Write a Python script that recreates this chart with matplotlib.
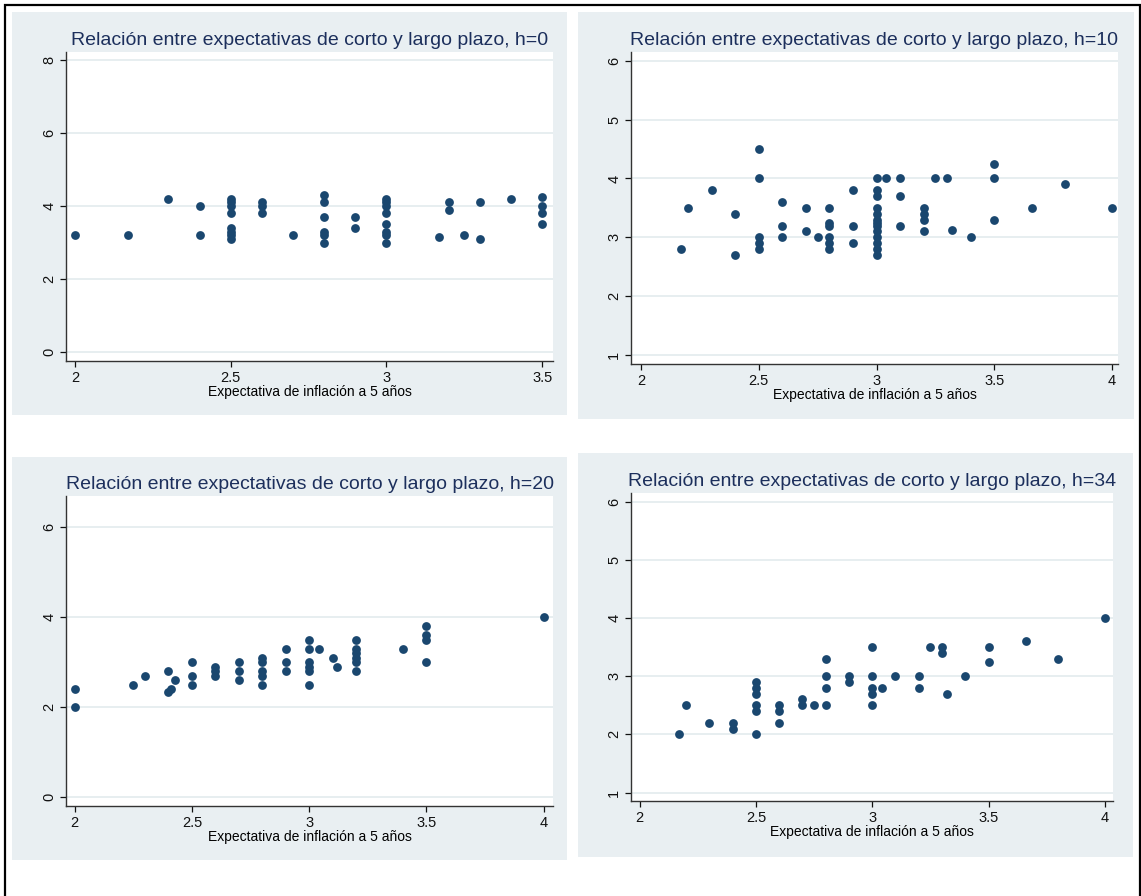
import numpy as np
import matplotlib
matplotlib.use("Agg")
from matplotlib import pyplot as plt
from matplotlib.patches import Rectangle

plt.rcParams['font.family'] = ['Liberation Sans', 'DejaVu Sans']

# expectativa a 5 años (x) vs expectativa de corto plazo (y), por horizonte h
h0_x = [2.0, 2.17, 2.3, 2.4, 2.4,
        2.5, 2.5, 2.5, 2.5, 2.5, 2.5, 2.5, 2.5,
        2.6, 2.6, 2.6, 2.7,
        2.8, 2.8, 2.8, 2.8, 2.8, 2.8,
        2.9, 2.9,
        3.0, 3.0, 3.0, 3.0, 3.0, 3.0, 3.0, 3.0,
        3.17, 3.2, 3.2, 3.25, 3.3, 3.3, 3.4,
        3.5, 3.5, 3.5, 3.5]
h0_y = [3.2, 3.2, 4.2, 4.0, 3.2,
        4.2, 4.1, 4.0, 3.8, 3.4, 3.3, 3.2, 3.1,
        4.1, 4.0, 3.8, 3.2,
        4.3, 4.1, 3.7, 3.3, 3.2, 3.0,
        3.7, 3.4,
        4.2, 4.1, 4.0, 3.8, 3.5, 3.3, 3.2, 3.0,
        3.15, 4.1, 3.9, 3.2, 4.1, 3.1, 4.2,
        4.25, 4.0, 3.8, 3.5]

h10_x = [2.17, 2.2, 2.3, 2.4, 2.4,
         2.5, 2.5, 2.5, 2.5, 2.5,
         2.6, 2.6, 2.6,
         2.7, 2.7, 2.75,
         2.8, 2.8, 2.8, 2.8, 2.8, 2.8,
         2.9, 2.9, 2.9,
         3.0, 3.0, 3.0, 3.0, 3.0, 3.0, 3.0, 3.0, 3.0, 3.0, 3.0, 3.0, 3.0,
         3.04, 3.1, 3.1, 3.1,
         3.2, 3.2, 3.2, 3.2,
         3.25, 3.3, 3.32, 3.4,
         3.5, 3.5, 3.5,
         3.66, 3.8, 4.0]
h10_y = [2.8, 3.5, 3.8, 3.4, 2.7,
         4.5, 4.0, 3.0, 2.9, 2.8,
         3.6, 3.2, 3.0,
         3.5, 3.1, 3.0,
         3.5, 3.25, 3.2, 3.0, 2.9, 2.8,
         3.8, 3.2, 2.9,
         4.0, 3.8, 3.7, 3.5, 3.4, 3.3, 3.25, 3.2, 3.1, 3.0, 2.9, 2.8, 2.7,
         4.0, 4.0, 3.7, 3.2,
         3.5, 3.4, 3.3, 3.1,
         4.0, 4.0, 3.12, 3.0,
         4.25, 4.0, 3.3,
         3.5, 3.9, 3.5]

h20_x = [2.0, 2.0, 2.25, 2.3, 2.4, 2.4, 2.41, 2.43,
         2.5, 2.5, 2.5,
         2.6, 2.6, 2.6,
         2.7, 2.7, 2.7,
         2.8, 2.8, 2.8, 2.8, 2.8,
         2.9, 2.9, 2.9,
         3.0, 3.0, 3.0, 3.0, 3.0, 3.0,
         3.04, 3.1, 3.12,
         3.2, 3.2, 3.2, 3.2, 3.2, 3.2,
         3.4,
         3.5, 3.5, 3.5, 3.5,
         4.0]
h20_y = [2.4, 2.0, 2.5, 2.7, 2.8, 2.33, 2.4, 2.6,
         3.0, 2.7, 2.5,
         2.9, 2.8, 2.7,
         3.0, 2.8, 2.6,
         3.1, 3.0, 2.8, 2.7, 2.5,
         3.3, 3.0, 2.8,
         3.5, 3.3, 3.0, 2.9, 2.8, 2.5,
         3.3, 3.1, 2.9,
         3.5, 3.3, 3.2, 3.1, 3.0, 2.8,
         3.3,
         3.8, 3.6, 3.5, 3.0,
         4.0]

h34_x = [2.17, 2.2, 2.3, 2.4, 2.4,
         2.5, 2.5, 2.5, 2.5, 2.5, 2.5,
         2.6, 2.6, 2.6,
         2.7, 2.7, 2.75,
         2.8, 2.8, 2.8, 2.8,
         2.9, 2.9,
         3.0, 3.0, 3.0, 3.0, 3.0,
         3.04, 3.1, 3.2, 3.2,
         3.25, 3.3, 3.3, 3.32, 3.4,
         3.5, 3.5, 3.66, 3.8, 4.0]
h34_y = [2.0, 2.5, 2.2, 2.2, 2.1,
         2.9, 2.8, 2.7, 2.5, 2.4, 2.0,
         2.5, 2.4, 2.2,
         2.6, 2.5, 2.5,
         3.3, 3.0, 2.8, 2.5,
         3.0, 2.9,
         3.5, 3.0, 2.8, 2.7, 2.5,
         2.8, 3.0, 3.0, 2.8,
         3.5, 3.5, 3.4, 2.7, 3.0,
         3.5, 3.25, 3.6, 3.3, 4.0]

horizons = [0, 10, 20, 34]
xticks_list = [[2, 2.5, 3, 3.5], [2, 2.5, 3, 3.5, 4], [2, 2.5, 3, 3.5, 4], [2, 2.5, 3, 3.5, 4]]
yticks_list = [[0, 2, 4, 6, 8], [1, 2, 3, 4, 5, 6], [0, 2, 4, 6], [1, 2, 3, 4, 5, 6]]

W, H = 1141, 896
fig = plt.figure(figsize=(W / 100, H / 100), dpi=100)
fig.patch.set_facecolor("white")

bg_col = "#E9EFF2"
dot_col = "#1A476F"
title_col = "#1C2F5C"
grid_col = "#E3EBEE"

# pixel boxes: (left, top, right, bottom)
panel_px = [(12, 12, 567, 415), (578, 12, 1134, 419), (12, 457, 567, 860), (578, 453, 1133, 857)]
axes_px = [(66, 52, 553, 361), (631, 52, 1118, 364), (66, 496, 553, 806), (631, 493, 1113, 801)]
xlims = [(1.971, 3.535), (1.958, 4.025), (1.963, 4.04), (1.963, 4.035)]
ylims = [(-0.247, 8.22), (0.847, 6.15), (-0.2, 6.69), (0.855, 6.15)]

def fbox(b):
    l, t, r, bt = b
    return [l / W, 1 - bt / H, (r - l) / W, (bt - t) / H]

for b in panel_px:
    x0, y0, w, h = fbox(b)
    fig.add_artist(Rectangle((x0, y0), w, h, transform=fig.transFigure,
                             facecolor=bg_col, edgecolor="none", zorder=0))

# outer frame (bottom edge is cut off in the original)
fig.add_artist(Rectangle((5 / W, -0.05), (1140 - 5) / W, 1 - 5 / H + 0.05, transform=fig.transFigure,
                         facecolor="none", edgecolor="black", linewidth=1.6, zorder=5))

data = [(h0_x, h0_y), (h10_x, h10_y), (h20_x, h20_y), (h34_x, h34_y)]

for i in range(4):
    ax = fig.add_axes(fbox(axes_px[i]))
    ax.set_facecolor("white")
    xs, ys = data[i]
    ax.scatter(xs, ys, s=40, color=dot_col, linewidths=0, zorder=3)
    ax.set_xlim(*xlims[i])
    ax.set_ylim(*ylims[i])
    ax.set_xticks(xticks_list[i])
    ax.set_xticklabels([("%g" % t) for t in xticks_list[i]])
    ax.set_yticks(yticks_list[i])
    ax.set_yticklabels([str(t) for t in yticks_list[i]], rotation=90, va="center")
    ax.grid(True, axis="y", color=grid_col, linewidth=1.2, zorder=0)
    ax.set_axisbelow(True)
    for s in ["top", "right"]:
        ax.spines[s].set_visible(False)
    for s in ["left", "bottom"]:
        ax.spines[s].set_color("#333333")
        ax.spines[s].set_linewidth(1.0)
    ax.tick_params(axis="x", length=4, width=0.9, pad=3, labelsize=10.5, colors="#111111")
    ax.tick_params(axis="y", length=4, width=0.9, pad=3, labelsize=10.5, colors="#111111")
    ax.set_title("Relación entre expectativas de corto y largo plazo, h=%d" % horizons[i],
                 fontsize=14, color=title_col, pad=5)
    ax.set_xlabel("Expectativa de inflación a 5 años", fontsize=10, labelpad=0)

fig.savefig("out.png", dpi=100)
